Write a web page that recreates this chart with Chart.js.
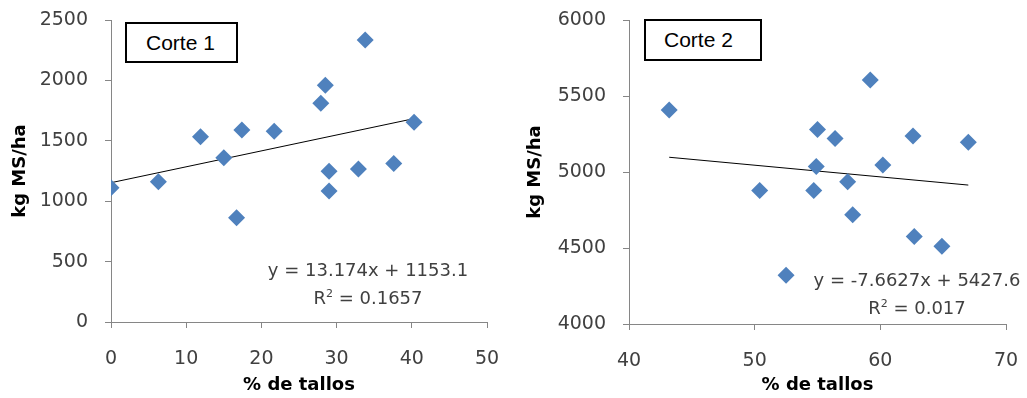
<!DOCTYPE html>
<html>
<head>
  <title>Corte 1 y Corte 2</title>
  <script src="https://cdn.jsdelivr.net/npm/chart.js"></script>
  <style>
    body { margin: 0; background: #fff; }
    .wrap { position: relative; width: 1027px; height: 398px; overflow: hidden; }
    canvas { position: absolute; top: 0; }
    #chart1 { left: 0; }
    #chart2 { left: 515px; }
    .box {
      position: absolute;
      border: 2px solid #000;
      background: #fff;
      font-family: "Liberation Sans", Arial, sans-serif;
      font-size: 21px;
      color: #000;
      box-sizing: border-box;
      line-height: 37px;
    }
    .eq {
      position: absolute;
      width: 260px;
      text-align: center;
      font-family: "DejaVu Sans", sans-serif;
      font-size: 18px;
      color: #404040;
      line-height: 28px;
    }
  </style>
</head>
<body>
  <div class="wrap">
    <canvas id="chart1" width="510" height="398"></canvas>
    <canvas id="chart2" width="512" height="398"></canvas>
    <div class="box" style="left:125px;top:22px;width:113px;height:41px;padding-left:19px;">Corte 1</div>
    <div class="box" style="left:644px;top:19px;width:118px;height:42px;padding-left:18px;">Corte 2</div>
    <div class="eq" style="left:238px;top:256px;">y = 13.174x + 1153.1<br>R<sup style="font-size:11px;vertical-align:7px;line-height:0">2</sup> = 0.1657</div>
    <div class="eq" style="left:787px;top:266px;">y = -7.6627x + 5427.6<br>R<sup style="font-size:11px;vertical-align:7px;line-height:0">2</sup> = 0.017</div>
  </div>
  <script>
    // Corte 1
    const tallos1 = [0, 6.3, 11.9, 15.0, 17.4, 21.7, 27.9, 28.5, 29.0, 29.0, 32.9, 33.8, 37.6, 40.3, 16.7];
    const kgMS1   = [1112, 1160, 1534, 1360, 1589, 1580, 1810, 1959, 1247, 1085, 1266, 2334, 1313, 1653, 863];
    const trend1X = [0, 40.4];
    const trend1Y = [1153, 1685];

    // Corte 2
    const tallos2 = [43.2, 59.2, 55.0, 56.4, 62.6, 67.0, 54.9, 60.2, 57.4, 50.4, 54.7, 57.8, 62.7, 64.9, 52.5];
    const kgMS2   = [5408, 5605, 5280, 5221, 5237, 5195, 5037, 5046, 4936, 4879, 4879, 4719, 4576, 4511, 4320];
    const trend2X = [43.2, 67.0];
    const trend2Y = [5097, 4914];

    const markerColor = '#4F81BD';
    const axisGray = '#868686';
    const tickFont = { family: 'DejaVu Sans', size: 19 };
    const titleFont = { family: 'DejaVu Sans', size: 18, weight: 'bold' };

    function pts(xs, ys) {
      return xs.map((x, i) => ({ x: x, y: ys[i] }));
    }

    // drop the label overflow padding so the plot box sits where the layout padding says
    function noPad(s) {
      s.paddingTop = 0; s.paddingBottom = 0; s.paddingLeft = 0; s.paddingRight = 0;
    }

    function createChart(canvasId, xs, ys, tx, ty, xr, yr, yWidth, xHeight, padRight, padTop) {
      const ctx = document.getElementById(canvasId).getContext('2d');
      return new Chart(ctx, {
        type: 'scatter',
        data: {
          datasets: [{
            data: pts(xs, ys),
            pointStyle: 'rectRot',
            pointRadius: 8.5,
            pointHoverRadius: 8.5,
            backgroundColor: markerColor,
            borderColor: markerColor,
            borderWidth: 0
          }, {
            data: pts(tx, ty),
            showLine: true,
            borderColor: '#000',
            borderWidth: 1,
            pointRadius: 0,
            fill: false
          }]
        },
        options: {
          responsive: false,
          animation: false,
          layout: { autoPadding: false, padding: { top: padTop, right: padRight, left: 0, bottom: 0 } },
          plugins: { legend: { display: false }, tooltip: { enabled: false } },
          scales: {
            x: {
              type: 'linear',
              min: xr[0], max: xr[1],
              ticks: { stepSize: xr[2], color: '#404040', font: tickFont, padding: 20, callback: v => String(v) },
              grid: { drawOnChartArea: false, drawTicks: true, tickLength: 6, color: axisGray },
              border: { color: axisGray, width: 1 },
              title: { display: true, text: '% de tallos', color: '#000', font: titleFont, padding: { top: 2, bottom: 2 } },
              afterFit: s => { s.height = xHeight; noPad(s); }
            },
            y: {
              min: yr[0], max: yr[1],
              ticks: { stepSize: yr[2], color: '#404040', font: tickFont, padding: 17, callback: v => String(v) },
              grid: { drawOnChartArea: false, drawTicks: true, tickLength: 6, color: axisGray },
              border: { color: axisGray, width: 1 },
              title: { display: true, text: 'kg MS/ha', color: '#000', font: titleFont, padding: { top: 10, bottom: 2 } },
              afterFit: s => { s.width = yWidth; noPad(s); }
            }
          }
        }
      });
    }

    createChart('chart1', tallos1, kgMS1, trend1X, trend1Y, [0, 50, 10], [0, 2500, 500], 111, 76, 23, 20);
    createChart('chart2', tallos2, kgMS2, trend2X, trend2Y, [40, 70, 10], [4000, 6000, 500], 114, 74, 21, 20);
  </script>
</body>
</html>
